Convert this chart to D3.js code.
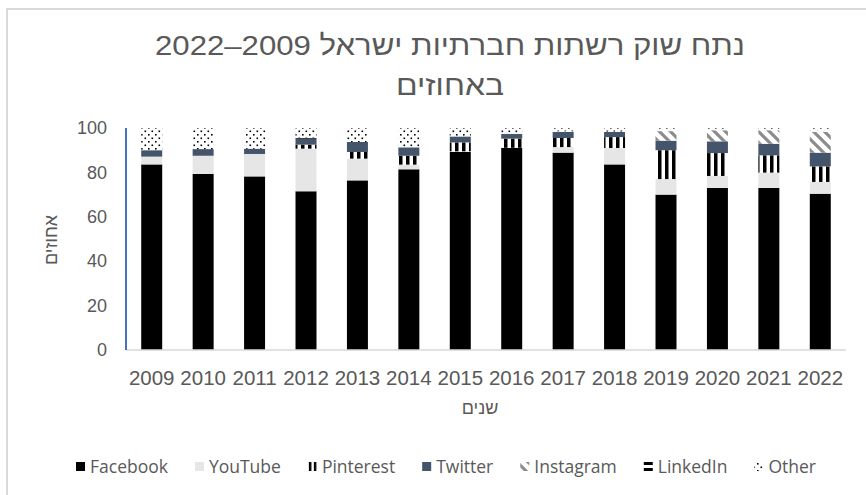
<!DOCTYPE html>
<html>
<head>
<meta charset="utf-8">
<script src="https://cdn.jsdelivr.net/npm/d3@7"></script>
<style>
  body { margin: 0; background: #fff; }
  svg { display: block; }
</style>
</head>
<body>
<div id="chart"></div>
<script>
// data, percent of market per year
const years = ["2009","2010","2011","2012","2013","2014","2015","2016","2017","2018","2019","2020","2021","2022"];
const facebook  = [83.6, 79.3, 78.2, 71.5, 76.4, 81.4, 89.2, 91.1, 88.9, 83.6, 70.0, 73.0, 73.0, 70.4];
const youtube   = [3.5, 8.2, 10.1, 19.2, 9.8, 2.1, 0.3, 0, 2.5, 7.4, 7.0, 5.4, 6.9, 5.3];
const pinterest = [0, 0, 0, 1.8, 3.0, 4.0, 4.0, 4.1, 4.1, 4.9, 13.0, 10.3, 7.8, 7.0];
const twitter   = [2.9, 3.0, 2.4, 2.7, 4.5, 3.8, 2.7, 1.9, 2.7, 2.3, 4.3, 5.3, 5.2, 6.2];
const instagram = [0, 0, 0, 0, 0, 0, 0, 0, 0, 0, 4.3, 5.0, 6.1, 9.3];
const linkedin  = [0, 0, 0, 0.3, 0, 0, 0, 0.3, 0.3, 0.2, 0.8, 0.3, 0.3, 0.8];
const other     = [10.0, 9.5, 9.3, 4.5, 6.3, 8.7, 3.8, 2.6, 1.5, 1.6, 0.6, 0.7, 0.7, 1.0];
const seriesNames = ["Facebook", "YouTube", "Pinterest", "Twitter", "Instagram", "LinkedIn", "Other"];
const yTicks = [0, 20, 40, 60, 80, 100];

const titleLine1 = "נתח שוק רשתות חברתיות ישראל 2009–2022";
const titleLine2 = "באחוזים";
const xTitle = "שנים";
const yTitle = "אחוזים";

const W = 866, H = 495;
const textColor = "#595959";

// build a table for d3.stack
const seriesValues = [facebook, youtube, pinterest, twitter, instagram, linkedin, other];
const table = years.map((y, i) => {
  const row = { year: y };
  seriesNames.forEach((n, k) => row[n] = seriesValues[k][i]);
  return row;
});

const svg = d3.select("#chart").append("svg")
  .attr("width", W).attr("height", H);

// patterns like the excel fills
const defs = svg.append("defs");

function vertPattern(id, period, x0) {
  const p = defs.append("pattern").attr("id", id)
    .attr("patternUnits", "userSpaceOnUse").attr("x", x0 || 0)
    .attr("width", period).attr("height", period);
  p.append("rect").attr("width", period).attr("height", period).attr("fill", "#fff");
  p.append("rect").attr("width", period / 2).attr("height", period).attr("fill", "#000");
}
vertPattern("p-pinterest", 7);

const pDiag = defs.append("pattern").attr("id", "p-instagram")
  .attr("patternUnits", "userSpaceOnUse").attr("width", 11).attr("height", 11);
pDiag.append("rect").attr("width", 11).attr("height", 11).attr("fill", "#fff");
pDiag.append("path").attr("d", "M-2,-2 L13,13 M-2,9 L2,13 M9,-2 L13,2")
  .attr("stroke", "#8c8c8c").attr("stroke-width", 3.2);

function horzPattern(id, y0) {
  const p = defs.append("pattern").attr("id", id)
    .attr("patternUnits", "userSpaceOnUse").attr("y", y0 || 0)
    .attr("width", 6).attr("height", 6);
  p.append("rect").attr("width", 6).attr("height", 6).attr("fill", "#fff");
  p.append("rect").attr("width", 6).attr("height", 3).attr("fill", "#000");
}
horzPattern("p-linkedin");

const pDots = defs.append("pattern").attr("id", "p-other")
  .attr("patternUnits", "userSpaceOnUse").attr("width", 7).attr("height", 7);
pDots.append("rect").attr("width", 7).attr("height", 7).attr("fill", "#fff");
pDots.append("rect").attr("x", 1).attr("y", 1).attr("width", 1.6).attr("height", 1.6).attr("fill", "#000");
pDots.append("rect").attr("x", 4.5).attr("y", 4.5).attr("width", 1.6).attr("height", 1.6).attr("fill", "#000");

const fills = {
  Facebook: "#000000",
  YouTube: "#e6e6e6",
  Pinterest: "url(#p-pinterest)",
  Twitter: "#44546a",
  Instagram: "url(#p-instagram)",
  LinkedIn: "url(#p-linkedin)",
  Other: "url(#p-other)"
};

// chart frame
svg.append("rect")
  .attr("x", 7).attr("y", 9).attr("width", W + 20).attr("height", H + 20)
  .attr("fill", "none").attr("stroke", "#d9d9d9").attr("stroke-width", 2);

const plot = { left: 126, right: 846, top: 128, bottom: 350 };

const x = d3.scaleBand()
  .domain(years)
  .range([plot.left, plot.right])
  .paddingInner(0.592)
  .paddingOuter(0.296);

const y = d3.scaleLinear()
  .domain([0, 100])
  .range([plot.bottom, plot.top]);

const stacked = d3.stack().keys(seriesNames)(table);

svg.append("g")
  .selectAll("g")
  .data(stacked)
  .join("g")
    .attr("fill", d => fills[d.key])
  .selectAll("rect")
  .data(d => d)
  .join("rect")
    .attr("x", d => x(d.data.year))
    .attr("y", d => y(d[1]))
    .attr("width", x.bandwidth())
    .attr("height", d => Math.max(0, y(d[0]) - y(d[1])));

// baseline and left axis line
svg.append("line")
  .attr("x1", plot.left).attr("x2", plot.right)
  .attr("y1", y(0)).attr("y2", y(0))
  .attr("stroke", "#d9d9d9").attr("stroke-width", 1.5);

svg.append("line")
  .attr("x1", plot.left).attr("x2", plot.left)
  .attr("y1", y(100)).attr("y2", y(0))
  .attr("stroke", "#4472c4").attr("stroke-width", 2);

// y axis
const yAxis = svg.append("g")
  .attr("transform", "translate(" + (plot.left - 19) + ",0)")
  .call(d3.axisLeft(y).tickValues(yTicks).tickSize(0).tickPadding(0));
yAxis.select(".domain").remove();
yAxis.selectAll("text")
  .attr("fill", textColor)
  .style("font-family", "'Liberation Sans', Arial, sans-serif")
  .style("font-size", "18px");

// x axis
const xAxis = svg.append("g")
  .attr("transform", "translate(0," + y(0) + ")")
  .call(d3.axisBottom(x).tickSize(0).tickPadding(20));
xAxis.select(".domain").remove();
xAxis.selectAll("text")
  .attr("fill", textColor)
  .style("font-family", "'Liberation Sans', Arial, sans-serif")
  .style("font-size", "20.5px");

// titles
const titleG = svg.append("g")
  .style("font-family", "'Liberation Sans', Arial, sans-serif")
  .attr("fill", textColor)
  .attr("text-anchor", "middle")
  .style("direction", "rtl");

titleG.append("text").attr("x", 450).attr("y", 55)
  .attr("textLength", 590).attr("lengthAdjust", "spacingAndGlyphs")
  .style("font-size", "28px").text(titleLine1);
titleG.append("text").attr("x", 450).attr("y", 95)
  .attr("textLength", 108).attr("lengthAdjust", "spacingAndGlyphs")
  .style("font-size", "28px").text(titleLine2);

svg.append("text")
  .attr("x", 480).attr("y", 414)
  .attr("text-anchor", "middle")
  .style("direction", "rtl")
  .style("font-family", "'Liberation Sans', Arial, sans-serif")
  .style("font-size", "18px")
  .attr("fill", textColor)
  .text(xTitle);

svg.append("text")
  .attr("transform", "translate(57,240) rotate(-90)")
  .attr("text-anchor", "middle")
  .style("direction", "rtl")
  .style("font-family", "'Liberation Sans', Arial, sans-serif")
  .style("font-size", "18px")
  .attr("fill", textColor)
  .text(yTitle);

// legend
const legend = svg.append("g")
  .style("font-family", "'Open Sans', sans-serif")
  .style("font-size", "17.5px")
  .attr("fill", textColor);

let lx = 76;
const ly = 467;
seriesNames.forEach(name => {
  let fill = fills[name];
  // legend swatches get their own aligned patterns
  if (name === "Pinterest") { vertPattern("l-pinterest", 5, lx + 1); fill = "url(#l-pinterest)"; }
  if (name === "LinkedIn") { horzPattern("l-linkedin", ly - 5); fill = "url(#l-linkedin)"; }
  legend.append("rect")
    .attr("x", lx).attr("y", ly - 5).attr("width", 9).attr("height", 9)
    .attr("fill", fill);
  const t = legend.append("text")
    .attr("x", lx + 14).attr("y", ly + 6)
    .text(name);
  lx += 14 + t.node().getComputedTextLength() + 27;
});
</script>
</body>
</html>
